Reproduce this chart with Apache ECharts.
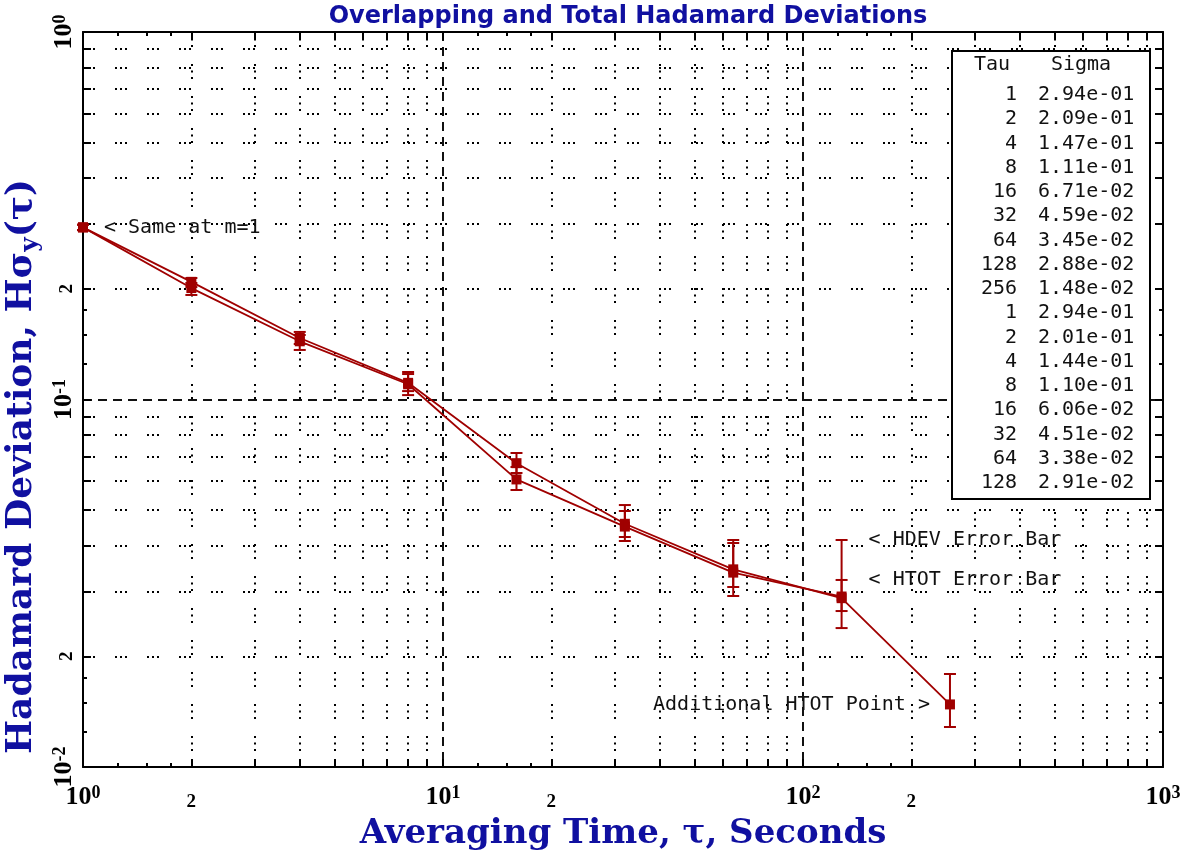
<!DOCTYPE html>
<html>
<head>
<meta charset="utf-8">
<title>Overlapping and Total Hadamard Deviations</title>
<script src="https://cdn.jsdelivr.net/npm/echarts@6/dist/echarts.min.js"></script>
<style>
  html, body { margin: 0; padding: 0; background: #fff; }
  #hadamard_chart { width: 1191px; height: 863px; }
</style>
</head>
<body>
<div id="hadamard_chart"></div>
<script>
// total deviation (HTOT), tau in seconds
const tauHtot = [1, 2, 4, 8, 16, 32, 64, 128, 256]
const sigmaHtot = [2.94e-1, 2.09e-1, 1.47e-1, 1.11e-1, 6.71e-2, 4.59e-2, 3.45e-2, 2.88e-2, 1.48e-2]
const htotLo = [0.289, 0.2023, 0.1416, 0.1054, 0.0631, 0.04225, 0.03089, 0.02657, 0.01285]
const htotHi = [0.299, 0.2141, 0.1527, 0.1188, 0.07153, 0.04972, 0.04069, 0.03228, 0.01791]

// overlapping deviation (HDEV)
const tauHdev = [1, 2, 4, 8, 16, 32, 64, 128]
const sigmaHdev = [2.94e-1, 2.01e-1, 1.44e-1, 1.10e-1, 6.06e-2, 4.51e-2, 3.38e-2, 2.91e-2]
const hdevLo = [0.289, 0.1925, 0.1364, 0.1028, 0.05672, 0.04121, 0.02919, 0.02388]
const hdevHi = [0.299, 0.2075, 0.1498, 0.1173, 0.06553, 0.05162, 0.04146, 0.04146]

// axis ticks / labels
const xLabelValues = [1, 2, 10, 20, 100, 200, 1000]
const yLabelValues = [0.01, 0.02, 0.1, 0.2, 1]
const xDecades = [1, 10, 100]
const yDecades = [0.01, 0.1]
const gridMults = [2, 3, 4, 5, 6, 7, 8, 9]
const smallMults = [1.25, 1.5, 1.75]

const RED = '#a00000'
const BLUE = '#1010a0'
const SERIF = '"Liberation Serif", "DejaVu Serif", serif'
const NAME_SERIF = '"DejaVu Serif", "Liberation Serif", serif'
const SANS = '"DejaVu Sans", "Liberation Sans", sans-serif'
const MONO = '"DejaVu Sans Mono", "Liberation Mono", monospace'

function spread (decades, mults) {
  let out = []
  decades.forEach(function (d) {
    mults.forEach(function (m) { out.push(+(d * m).toPrecision(6)) })
  })
  return out
}
let xGridVals = spread(xDecades, gridMults)
let yGridVals = spread(yDecades, gridMults)
let xMajorTicks = xGridVals.concat(xDecades.slice(1))
let yMajorTicks = yGridVals.concat(yDecades.slice(1))
let xSmallTicks = spread(xDecades, smallMults)
let ySmallTicks = spread(yDecades, smallMults)

function logLabel (v) {
  let e = Math.floor(Math.log10(v) + 1e-9)
  let m = Math.round(v / Math.pow(10, e))
  if (m === 1) return '{b|10}{sup|' + e + '}'
  return '{s|' + m + '}'
}

function fmtSigma (v) {
  return v.toExponential(2).replace(/e([+-])(\d)$/, 'e$10$2')
}

let labelRich = {
  b: { fontFamily: SERIF, fontWeight: 'bold', fontSize: 26, color: '#000' },
  sup: { fontFamily: SERIF, fontWeight: 'bold', fontSize: 18, color: '#000', verticalAlign: 'top' },
  s: { fontFamily: SERIF, fontWeight: 'bold', fontSize: 19, color: '#000', padding: [9, 0, 0, 0] }
}

function hiddenAxis (extra) {
  return Object.assign({
    type: 'log',
    logBase: 10,
    axisLine: { show: false },
    axisLabel: { show: false },
    axisTick: { show: false },
    splitLine: { show: false },
    minorTick: { show: false },
    silent: true
  }, extra)
}

function xAx (position, extra) {
  return hiddenAxis(Object.assign({ position: position, min: 1, max: 1000 }, extra))
}
function yAx (position, extra) {
  return hiddenAxis(Object.assign({ position: position, min: 0.01, max: 1 }, extra))
}

let tickStyle = { color: '#000', width: 2 }
let dashStyle = { color: '#111', width: 2, type: [9, 6] }

let xAxes = [
  xAx('bottom', {
    axisLine: { show: true, onZero: false, lineStyle: { color: '#000', width: 2 } },
    axisTick: { show: true, inside: true, length: 8, customValues: xMajorTicks, lineStyle: tickStyle },
    axisLabel: {
      show: true, customValues: xLabelValues, formatter: logLabel, margin: 17,
      showMinLabel: true, showMaxLabel: true, hideOverlap: false, rich: labelRich
    },
    name: 'Averaging Time, τ, Seconds',
    nameLocation: 'middle',
    nameGap: 47,
    nameTextStyle: { fontFamily: NAME_SERIF, fontWeight: 'bold', fontSize: 34, color: BLUE }
  }),
  xAx('bottom', { axisTick: { show: true, inside: true, length: 4, customValues: xSmallTicks, lineStyle: tickStyle } }),
  xAx('bottom', {
    axisTick: { show: false, customValues: xDecades.slice(1) },
    splitLine: { show: true, lineStyle: dashStyle }
  }),
  xAx('bottom', {
    axisTick: { show: false, customValues: xGridVals },
    splitLine: { show: true, lineStyle: { color: '#000', width: 2, type: [2, 4.5, 2, 4.5, 2, 17] } }
  }),
  xAx('top', {
    axisLine: { show: true, onZero: false, lineStyle: { color: '#000', width: 2 } },
    axisTick: { show: true, inside: true, length: 8, customValues: xMajorTicks, lineStyle: tickStyle }
  }),
  xAx('top', { axisTick: { show: true, inside: true, length: 4, customValues: xSmallTicks, lineStyle: tickStyle } })
]

let yAxes = [
  yAx('left', {
    axisLine: { show: true, onZero: false, lineStyle: { color: '#000', width: 2 } },
    axisTick: { show: true, inside: true, length: 8, customValues: yMajorTicks, lineStyle: tickStyle },
    axisLabel: {
      show: true, customValues: yLabelValues, formatter: logLabel, margin: 6, rotate: 90,
      showMinLabel: true, showMaxLabel: true, hideOverlap: false, rich: labelRich
    },
    name: '{n|Hadamard Deviation, Hσ}{sub|y}{n|(τ)}',
    nameLocation: 'middle',
    nameGap: 29,
    nameTextStyle: {
      padding: [0, 134, 0, 0],
      rich: {
        n: { fontFamily: NAME_SERIF, fontWeight: 'bold', fontSize: 36, color: BLUE },
        sub: { fontFamily: NAME_SERIF, fontWeight: 'bold', fontSize: 25, color: BLUE, padding: [18, 0, 0, 0] }
      }
    }
  }),
  yAx('left', { axisTick: { show: true, inside: true, length: 4, customValues: ySmallTicks, lineStyle: tickStyle } }),
  yAx('left', {
    axisTick: { show: false, customValues: yDecades.slice(1) },
    splitLine: { show: true, lineStyle: dashStyle }
  }),
  yAx('left', {
    axisTick: { show: false, customValues: yGridVals },
    splitLine: { show: true, lineStyle: { color: '#000', width: 2, type: [2, 3, 2, 3, 2, 20] } }
  }),
  yAx('right', {
    axisLine: { show: true, onZero: false, lineStyle: { color: '#000', width: 2 } },
    axisTick: { show: true, inside: true, length: 8, customValues: yMajorTicks, lineStyle: tickStyle }
  }),
  yAx('right', { axisTick: { show: true, inside: true, length: 4, customValues: ySmallTicks, lineStyle: tickStyle } })
]

function errorBarItem (params, api) {
  let x = api.value(0)
  let lo = api.coord([x, api.value(1)])
  let hi = api.coord([x, api.value(2)])
  let half = 6
  let style = { stroke: RED, lineWidth: 2 }
  return {
    type: 'group',
    children: [
      { type: 'line', shape: { x1: lo[0], y1: lo[1], x2: hi[0], y2: hi[1] }, style: style },
      { type: 'line', shape: { x1: hi[0] - half, y1: hi[1], x2: hi[0] + half, y2: hi[1] }, style: style },
      { type: 'line', shape: { x1: lo[0] - half, y1: lo[1], x2: lo[0] + half, y2: lo[1] }, style: style }
    ]
  }
}

function pairs (xs, ys) { return xs.map(function (x, i) { return [x, ys[i]] }) }
function triples (xs, lo, hi) { return xs.map(function (x, i) { return [x, lo[i], hi[i]] }) }

let noteLabel = { show: true, color: '#111', fontFamily: MONO, fontSize: 20, backgroundColor: 'transparent' }

// table in the upper right corner
const rowY0 = 95
const rowStep = 24.25
const tableFont = '20px ' + MONO
let tableRows = pairs(tauHtot, sigmaHtot).concat(pairs(tauHdev, sigmaHdev))
let tableTexts = [
  { type: 'rect', z: 100, shape: { x: 952, y: 51, width: 198, height: 448 }, style: { fill: '#fff', stroke: '#000', lineWidth: 2 } },
  { type: 'text', z: 101, x: 992, y: 65, style: { text: 'Tau', font: tableFont, fill: '#111', align: 'center', verticalAlign: 'middle' } },
  { type: 'text', z: 101, x: 1081, y: 65, style: { text: 'Sigma', font: tableFont, fill: '#111', align: 'center', verticalAlign: 'middle' } }
]
tableRows.forEach(function (r, i) {
  let y = rowY0 + i * rowStep
  tableTexts.push({ type: 'text', z: 101, x: 1017, y: y, style: { text: String(r[0]), font: tableFont, fill: '#111', align: 'right', verticalAlign: 'middle' } })
  tableTexts.push({ type: 'text', z: 101, x: 1038, y: y, style: { text: fmtSigma(r[1]), font: tableFont, fill: '#111', align: 'left', verticalAlign: 'middle' } })
})

let myChart = echarts.init(document.getElementById('hadamard_chart'), null, { renderer: 'canvas' })
let option = {
  animation: false,
  backgroundColor: '#fff',
  title: {
    text: 'Overlapping and Total Hadamard Deviations',
    left: 623,
    textAlign: 'center',
    top: 0,
    textStyle: { fontFamily: SANS, fontWeight: 'bold', fontSize: 24, color: BLUE }
  },
  grid: { left: 83, top: 32, right: 28, bottom: 96, containLabel: false, outerBoundsMode: 'none' },
  xAxis: xAxes,
  yAxis: yAxes,
  graphic: { elements: tableTexts },
  series: [
    {
      name: 'HTOT',
      type: 'line',
      xAxisIndex: 0,
      yAxisIndex: 0,
      data: pairs(tauHtot, sigmaHtot),
      symbol: 'rect',
      symbolSize: 10,
      lineStyle: { color: RED, width: 1.8 },
      itemStyle: { color: RED },
      z: 5,
      markPoint: {
        symbol: 'rect',
        symbolSize: 0,
        silent: true,
        label: noteLabel,
        data: [
          { coord: [tauHtot[0], sigmaHtot[0]], label: { position: 'right', distance: 21, formatter: '< Same at m=1' } },
          { coord: [tauHdev[7], hdevHi[7]], label: { position: 'right', distance: 27, formatter: '< HDEV Error Bar' } },
          { coord: [tauHtot[7], htotHi[7]], label: { position: 'right', distance: 27, formatter: '< HTOT Error Bar' } },
          { coord: [tauHtot[8], sigmaHtot[8]], label: { position: 'left', distance: 20, formatter: 'Additional HTOT Point >' } }
        ]
      }
    },
    {
      name: 'HDEV',
      type: 'line',
      xAxisIndex: 0,
      yAxisIndex: 0,
      data: pairs(tauHdev, sigmaHdev),
      symbol: 'rect',
      symbolSize: 10,
      lineStyle: { color: RED, width: 1.8 },
      itemStyle: { color: RED },
      z: 5
    },
    {
      name: 'HTOT error',
      type: 'custom',
      xAxisIndex: 0,
      yAxisIndex: 0,
      renderItem: errorBarItem,
      encode: { x: 0, y: [1, 2] },
      data: triples(tauHtot, htotLo, htotHi),
      z: 6
    },
    {
      name: 'HDEV error',
      type: 'custom',
      xAxisIndex: 0,
      yAxisIndex: 0,
      renderItem: errorBarItem,
      encode: { x: 0, y: [1, 2] },
      data: triples(tauHdev, hdevLo, hdevHi),
      z: 6
    }
  ]
}
myChart.setOption(option)
</script>
</body>
</html>
